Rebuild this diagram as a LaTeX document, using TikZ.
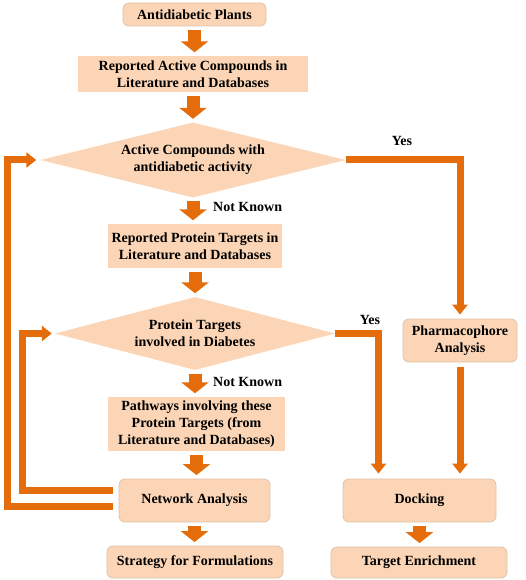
\documentclass[tikz,border=0pt]{standalone}
\usepackage{fontspec}
\setmainfont{Liberation Serif}
\newfontfamily\flowfont{Liberation Serif}[BoldFont={Liberation Serif Bold}]
\usetikzlibrary{arrows.meta,shapes.geometric,calc}
\definecolor{peach}{RGB}{251,213,181}
\definecolor{peachline}{RGB}{222,194,172}
\definecolor{flowor}{RGB}{228,108,10}
\tikzset{
  txt/.style={font=\flowfont\fontsize{14}{17}\selectfont\bfseries, align=center, inner sep=0pt},
  plainbox/.style={txt, rectangle, fill=peach},
  roundbox/.style={txt, rectangle, rounded corners=6pt, fill=peach, draw=peachline, thick},
  decision/.style={txt, diamond, fill=peach, aspect=4},
  blockarrow/.style={draw=flowor, line width=13pt, -{Triangle[length=11pt,width=27pt]}, shorten <=3.5pt, shorten >=3.5pt},
  connect/.style={draw=flowor, line width=7pt, -{Triangle[length=10pt,width=15pt]}}
}
\begin{document}
\begin{tikzpicture}[x=1pt, y=-1pt]
		\useasboundingbox (0,0) rectangle (525,580);
		\node[roundbox, minimum width=143pt, minimum height=23pt] (plants) at (194.5,14.5) {Antidiabetic Plants};
		\node[plainbox, minimum width=230pt, minimum height=36pt] (compounds) at (193,74) {Reported Active Compounds in\\Literature and Databases};
		\node[decision, minimum width=305pt, minimum height=75pt] (dec1) at (193,160) {Active Compounds with\\antidiabetic activity};
		\node[plainbox, minimum width=174pt, minimum height=44pt] (ptargets) at (195,246) {Reported Protein Targets in\\Literature and Databases};
		\node[decision, minimum width=280pt, minimum height=73pt] (dec2) at (195,333.5) {Protein Targets\\involved in Diabetes};
		\node[plainbox, minimum width=177pt, minimum height=54pt] (pathways) at (196.5,424) {Pathways involving these\\Protein Targets (from\\Literature and Databases)};
		\node[roundbox, minimum width=151pt, minimum height=43pt] (network) at (194.5,500.5) {Network Analysis};
		\node[roundbox, minimum width=176pt, minimum height=32pt] (strategy) at (195,562) {Strategy for Formulations};
		\node[roundbox, minimum width=114pt, minimum height=43pt] (pharma) at (460,340.5) {Pharmacophore\\Analysis};
		\node[roundbox, minimum width=153pt, minimum height=43pt] (docking) at (419.5,500.5) {Docking};
		\node[roundbox, minimum width=176pt, minimum height=31pt] (target) at (419,562.5) {Target Enrichment};
		\foreach \a/\b in {plants/compounds, compounds/dec1, dec1/ptargets, ptargets/dec2, dec2/pathways, pathways/network, network/strategy, docking/target} {
		  \draw[blockarrow] (\a.south) -- (\a.south |- \b.north);
		}
		\node[txt, anchor=west] (nk1) at (213,207) {Not Known};
		\node[txt, anchor=west] (nk2) at (213,382) {Not Known};
		\node[txt] (yes1) at (402,141) {Yes};
		\node[txt] (yes2) at (370,320) {Yes};
		\draw[connect, shorten >=4pt] (dec1.east) -| (pharma.north);
		\draw[connect, shorten <=5pt, shorten >=5pt] (pharma.south) -- (pharma.south |- docking.north);
		\coordinate (dockin) at ($(docking.north)+(-41pt,0)$);
		\draw[connect, shorten >=5pt] (dec2.east) -| (dockin);
		\coordinate (fbout) at (7,160);
		\coordinate (fbin) at (22.5,333.5);
		\draw[connect, shorten >=4pt] ([shift={(-6pt,-6pt)}]network.west) -| (fbout |- dec1.west) -- (dec1.west);
		\draw[connect, shorten >=3pt] ([shift={(-6pt,10pt)}]network.west) -| (fbin |- dec2.west) -- (dec2.west);
	\end{tikzpicture}
\end{document}
